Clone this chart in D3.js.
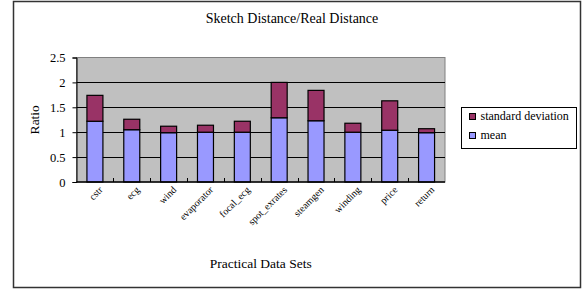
<!DOCTYPE html>
<meta charset="utf-8">
<style>
body { margin: 0; background: #fff; }
text { font-family: "Liberation Serif", "Times New Roman", serif; fill: #000; }
</style>
<body>
<div class="chart"></div>
<script src="https://cdn.jsdelivr.net/npm/d3@7"></script>
<script>

var categories = ["cstr", "ecg", "wind", "evaporator", "focal_ecg", "spot_exrates", "steamgen", "winding", "price", "return"];
var meanValues = [1.22, 1.05, 0.99, 1.00, 1.00, 1.29, 1.23, 1.00, 1.04, 0.99];
var stdValues  = [0.52, 0.21, 0.13, 0.14, 0.22, 0.71, 0.61, 0.18, 0.59, 0.08];
var yTicks = [0, 0.5, 1, 1.5, 2, 2.5];
var seriesNames = ["standard deviation", "mean"];
var seriesColors = {"mean": "#9999ff", "standard deviation": "#993366"};

var width = 586, height = 290;
var plot = {left: 76.5, right: 445, top: 57.5, bottom: 182};

var svg = d3.select(".chart").append("svg")
    .attr("width", width)
    .attr("height", height);

// outer chart frame
svg.append("rect")
    .attr("x", 13.5).attr("y", 1.5)
    .attr("width", 567).attr("height", 286)
    .attr("fill", "#fff")
    .attr("stroke", "#333")
    .attr("stroke-width", 1.5);

var x = d3.scaleBand()
    .domain(categories)
    .range([plot.left, plot.right]);

var y = d3.scaleLinear()
    .domain([0, 2.5])
    .range([plot.bottom, plot.top]);

// plot area
svg.append("rect")
    .attr("x", plot.left).attr("y", plot.top)
    .attr("width", plot.right - plot.left)
    .attr("height", plot.bottom - plot.top)
    .attr("fill", "#c0c0c0")
    .attr("stroke", "#808080");

// gridlines
svg.append("g")
    .selectAll("line")
    .data(yTicks.filter(function(d) { return d > 0 && d < 2.5; }))
    .enter().append("line")
    .attr("x1", plot.left).attr("x2", plot.right)
    .attr("y1", function(d) { return Math.round(y(d)) + 0.5; })
    .attr("y2", function(d) { return Math.round(y(d)) + 0.5; })
    .attr("stroke", "#000");

// stacked bars
var stacked = categories.map(function(c, i) {
    return {name: c, mean: meanValues[i], "standard deviation": stdValues[i]};
});
var stack = d3.stack().keys(["mean", "standard deviation"]);
var layers = stack(stacked);

var barW = x.bandwidth() * 0.434;

svg.append("g")
    .selectAll("g")
    .data(layers)
    .enter().append("g")
    .attr("fill", function(d) { return seriesColors[d.key]; })
    .selectAll("rect")
    .data(function(d) { return d; })
    .enter().append("rect")
    .attr("x", function(d) { return x(d.data.name) + (x.bandwidth() - barW) / 2; })
    .attr("y", function(d) { return y(d[1]); })
    .attr("width", barW)
    .attr("height", function(d) { return y(d[0]) - y(d[1]); })
    .attr("stroke", "#000")
    .attr("stroke-width", 1.2);

// y axis
var yAxis = svg.append("g")
    .attr("transform", "translate(" + plot.left + ",0)")
    .call(d3.axisLeft(y).tickValues(yTicks).tickSize(4).tickFormat(d3.format("")));
yAxis.select(".domain").attr("stroke", "#000");
yAxis.selectAll("text")
    .attr("x", -11)
    .style("font-family", "Liberation Serif")
    .style("font-size", "12.5px");

// x axis with category boundary ticks
svg.append("line")
    .attr("x1", plot.left).attr("x2", plot.right)
    .attr("y1", plot.bottom).attr("y2", plot.bottom)
    .attr("stroke", "#000").attr("stroke-width", 1.5);

svg.append("g")
    .selectAll("line")
    .data(categories.slice(1))
    .enter().append("line")
    .attr("x1", function(d) { return Math.round(x(d)) + 0.5; })
    .attr("x2", function(d) { return Math.round(x(d)) + 0.5; })
    .attr("y1", plot.bottom).attr("y2", plot.bottom - 4)
    .attr("stroke", "#000");

// rotated category labels, transform set through CSS
svg.append("g")
    .selectAll("text")
    .data(categories)
    .enter().append("text")
    .style("transform", function(d) {
        var tx = x(d) + x.bandwidth() / 2 + 6, ty = plot.bottom + 6;
        return "translate(" + tx + "px," + ty + "px) rotate(-45deg)";
    })
    .attr("text-anchor", "end")
    .attr("dy", "0.35em")
    .style("font-size", "10px")
    .text(function(d) { return d; });

// titles
svg.append("text")
    .attr("x", 292).attr("y", 23)
    .attr("text-anchor", "middle")
    .style("font-size", "14px")
    .text("Sketch Distance/Real Distance");

svg.append("text")
    .attr("x", (plot.left + plot.right) / 2).attr("y", 268)
    .attr("text-anchor", "middle")
    .style("font-size", "13.5px")
    .text("Practical Data Sets");

svg.append("text")
    .attr("transform", "translate(39," + ((plot.top + plot.bottom) / 2) + ") rotate(-90)")
    .attr("text-anchor", "middle")
    .style("font-size", "13.5px")
    .text("Ratio");

// legend
var legend = svg.append("g").attr("transform", "translate(461.5,107.5)");
legend.append("rect")
    .attr("width", 115).attr("height", 41)
    .attr("fill", "#fff").attr("stroke", "#000");

var item = legend.selectAll(".item")
    .data(seriesNames)
    .enter().append("g")
    .attr("class", "item")
    .attr("transform", function(d, i) { return "translate(8," + (6 + i * 19) + ")"; });

item.append("rect")
    .attr("width", 6).attr("height", 6)
    .attr("fill", function(d) { return seriesColors[d]; })
    .attr("stroke", "#000");

item.append("text")
    .attr("x", 11).attr("y", 6.5)
    .style("font-size", "12px")
    .text(function(d) { return d; });

</script>
</body>
